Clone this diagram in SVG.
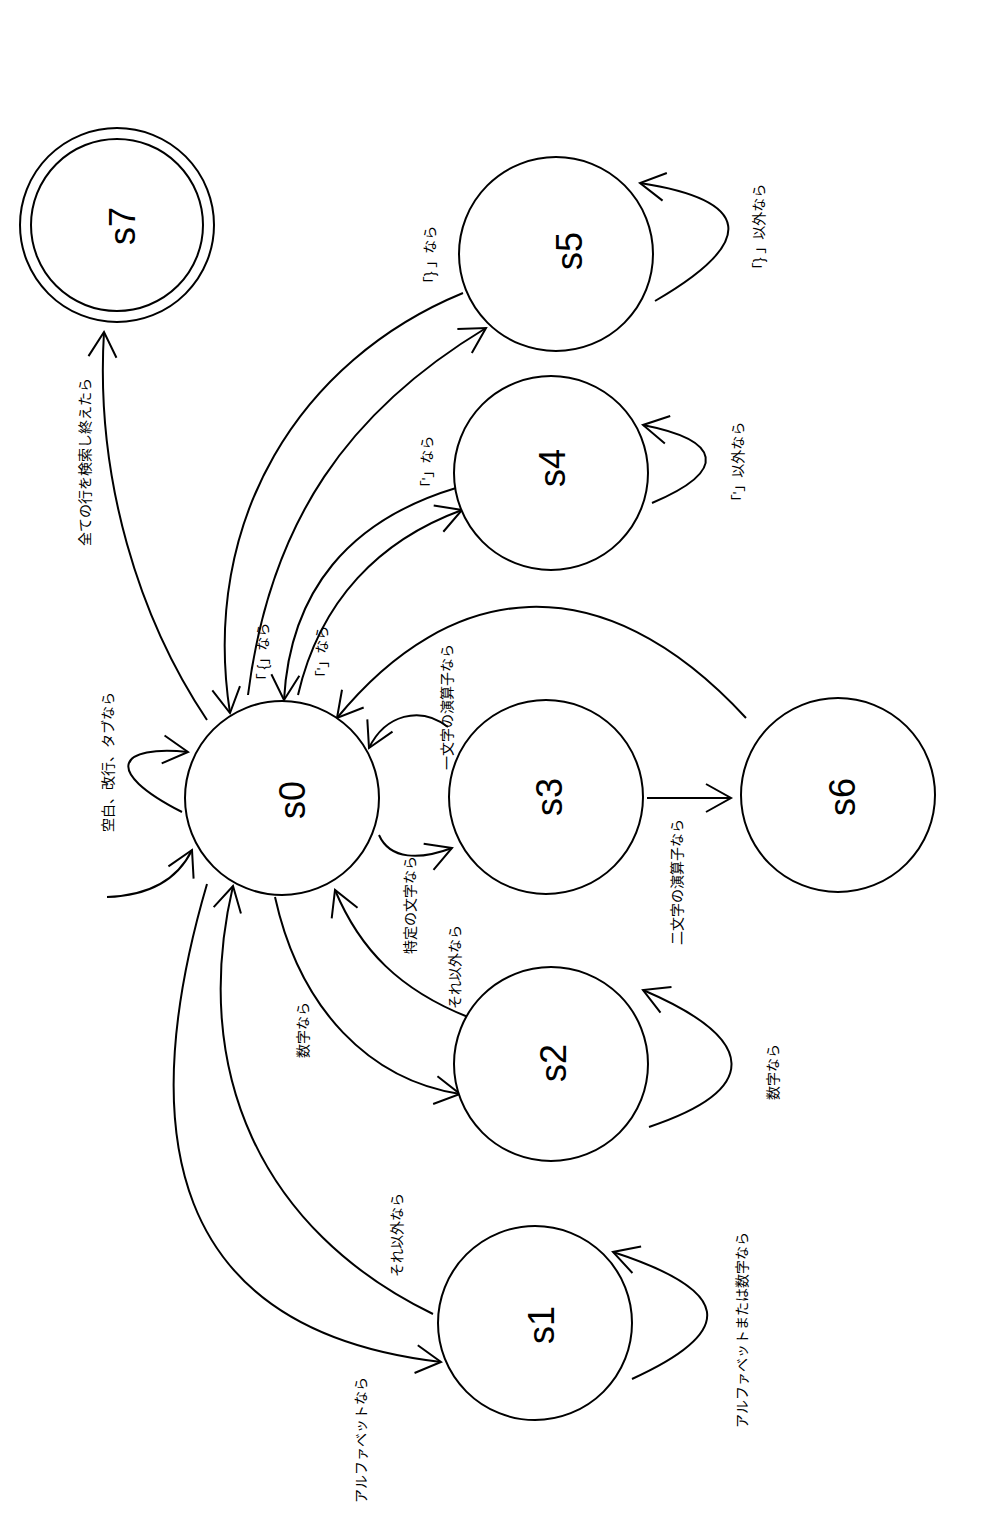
<svg xmlns="http://www.w3.org/2000/svg" width="1000" height="1527" viewBox="0 0 1000 1527">
<defs>
<marker id="arr" markerUnits="userSpaceOnUse" markerWidth="30" markerHeight="32" viewBox="0 0 30 32" refX="27" refY="16" orient="auto">
<path d="M2,2 L27,16 L2,30" fill="none" stroke="#000" stroke-width="2"/>
</marker>
</defs>
<style>
.n{fill:#fff;stroke:#000;stroke-width:2}
.nl{font-family:"Liberation Sans",Arial,sans-serif;font-size:36px;text-anchor:middle;dominant-baseline:central}
.e{fill:none;stroke:#000;stroke-width:2;marker-end:url(#arr)}
.l{font-family:"Liberation Sans","Noto Sans CJK JP",sans-serif;font-size:14px;text-anchor:middle;dominant-baseline:central}
</style>
<rect width="1000" height="1527" fill="#fff"/>
<g id="connectors">
<path class="e" d="M107,897 Q170,895 192,850"/>
<path class="e" d="M182,812 C100,770 120,745 188,752"/>
<path class="e" d="M207,720 C140,620 95,480 104,332"/>
<path class="e" d="M463,293 C300,360 200,520 230,713"/>
<path class="e" d="M248,695 C270,520 350,410 486,328"/>
<path class="e" d="M456,488 C350,520 290,590 284,700"/>
<path class="e" d="M298,695 C320,600 380,540 462,510"/>
<path class="e" d="M746,718 C600,560 450,580 337,718"/>
<path class="e" d="M448,727 C420,705 385,715 369,748"/>
<path class="e" d="M379,835 C390,860 420,860 452,848"/>
<path class="e" d="M647,798 L731,798"/>
<path class="e" d="M468,1017 C400,990 360,950 335,890"/>
<path class="e" d="M275,897 C300,1010 370,1080 460,1094"/>
<path class="e" d="M649,1127 C760,1090 760,1040 643,990"/>
<path class="e" d="M632,1379 C740,1330 730,1290 613,1252"/>
<path class="e" d="M652,503 C730,470 720,440 643,425"/>
<path class="e" d="M655,301 C760,240 750,200 640,183"/>
<path class="e" d="M433,1314 C260,1230 190,1070 233,886"/>
<path class="e" d="M207,884 C135,1130 165,1330 441,1362"/>
</g>
<g id="s0"><circle class="n" cx="282" cy="798" r="97"/><text class="nl" transform="translate(292,800) rotate(-90)">s0</text></g>
<g id="s1"><circle class="n" cx="535" cy="1323" r="97"/><text class="nl" transform="translate(541,1325) rotate(-90)">s1</text></g>
<g id="s2"><circle class="n" cx="551" cy="1064" r="97"/><text class="nl" transform="translate(553,1063) rotate(-90)">s2</text></g>
<g id="s3"><circle class="n" cx="546" cy="797" r="97"/><text class="nl" transform="translate(549,797) rotate(-90)">s3</text></g>
<g id="s4"><circle class="n" cx="551" cy="473" r="97"/><text class="nl" transform="translate(552,468) rotate(-90)">s4</text></g>
<g id="s5"><circle class="n" cx="556" cy="254" r="97"/><text class="nl" transform="translate(569,251) rotate(-90)">s5</text></g>
<g id="s6"><circle class="n" cx="838" cy="795" r="97"/><text class="nl" transform="translate(842,797) rotate(-90)">s6</text></g>
<g id="s7"><circle class="n" cx="117" cy="225" r="97"/><circle class="n" cx="117" cy="225" r="86"/><text class="nl" transform="translate(122,226) rotate(-90)">s7</text></g>
<g id="labels">
<text class="l" transform="translate(85,462) rotate(-90)">全ての行を検索し終えたら</text>
<text class="l" transform="translate(108,762) rotate(-90)">空白、改行、タブなら</text>
<text class="l" transform="translate(263,655) rotate(-90)">「 {」なら</text>
<text class="l" transform="translate(430,258) rotate(-90)">「} 」なら</text>
<text class="l" transform="translate(427,465) rotate(-90)">「'」なら</text>
<text class="l" transform="translate(322,655) rotate(-90)">「'」なら</text>
<text class="l" transform="translate(759,230) rotate(-90)">「} 」以外なら</text>
<text class="l" transform="translate(738,465) rotate(-90)">「'」以外なら</text>
<text class="l" transform="translate(447,707) rotate(-90)">一文字の演算子なら</text>
<text class="l" transform="translate(410,905) rotate(-90)">特定の文字なら</text>
<text class="l" transform="translate(455,967) rotate(-90)">それ以外なら</text>
<text class="l" transform="translate(677,882) rotate(-90)">二文字の演算子なら</text>
<text class="l" transform="translate(303,1030) rotate(-90)">数字なら</text>
<text class="l" transform="translate(773,1072) rotate(-90)">数字なら</text>
<text class="l" transform="translate(397,1235) rotate(-90)">それ以外なら</text>
<text class="l" transform="translate(361,1440) rotate(-90)">アルファベットなら</text>
<text class="l" transform="translate(742,1330) rotate(-90)">アルファベットまたは数字なら</text>
</g>
</svg>
